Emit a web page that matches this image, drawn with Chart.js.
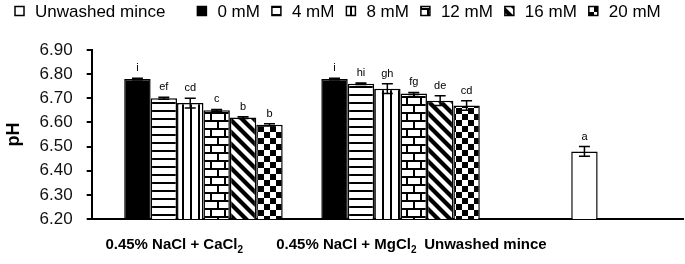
<!DOCTYPE html>
<html>
<head>
<meta charset="utf-8">
<script src="https://cdn.jsdelivr.net/npm/chart.js@4"></script>
<style>
  html, body { margin: 0; padding: 0; background: #fff; }
</style>
</head>
<body>
<canvas id="chart" width="685" height="264"></canvas>
<script>
// ================== Data ==================
const categories = ["0.45% NaCl + CaCl₂", "0.45% NaCl + MgCl₂", "Unwashed mince"];
const seriesNames = ["Unwashed mince", "0 mM", "4 mM", "8 mM", "12 mM", "16 mM", "20 mM"];

const phUnwashed = [null, null, 6.48];
const ph0 = [6.78, 6.78, null];
const ph4 = [6.70, 6.76, null];
const ph8 = [6.68, 6.74, null];
const ph12 = [6.65, 6.72, null];
const ph16 = [6.62, 6.69, null];
const ph20 = [6.59, 6.67, null];

const errUnwashed = [0, 0, 0.02];
const err0 = [0.003, 0.003, 0];
const err4 = [0.004, 0.003, 0];
const err8 = [0.02, 0.02, 0];
const err12 = [0.004, 0.004, 0];
const err16 = [0.004, 0.02, 0];
const err20 = [0.005, 0.02, 0];

const lettersUnwashed = ["", "", "a"];
const letters0 = ["i", "i", ""];
const letters4 = ["ef", "hi", ""];
const letters8 = ["cd", "gh", ""];
const letters12 = ["c", "fg", ""];
const letters16 = ["b", "de", ""];
const letters20 = ["b", "cd", ""];

const yTicks = [6.2, 6.3, 6.4, 6.5, 6.6, 6.7, 6.8, 6.9];

// ================== Patterns ==================
const canvas = document.getElementById("chart");
const FONT = "'Liberation Sans', Arial, Helvetica, sans-serif";

function makePattern(kind) {
  const tile = document.createElement("canvas");
  let w = 8, h = 8;
  if (kind === "brick") { w = 14; h = 16; }
  if (kind === "diag") { w = 12; h = 12; }
  if (kind === "check") { w = 12; h = 12; }
  tile.width = w;
  tile.height = h;
  const g = tile.getContext("2d");
  g.fillStyle = "#fff";
  g.fillRect(0, 0, w, h);
  g.fillStyle = "#000";
  if (kind === "hlines") g.fillRect(0, 6, w, 2);
  if (kind === "vlines") g.fillRect(6, 0, 2, h);
  if (kind === "brick") {
    g.fillRect(0, 0, w, 2);
    g.fillRect(0, 8, w, 2);
    g.fillRect(0, 0, 2, 8);
    g.fillRect(7, 8, 2, 8);
  }
  if (kind === "diag") {
    const s = 12, b = 6;
    g.beginPath();
    g.moveTo(0, 0); g.lineTo(b, 0); g.lineTo(s, s - b); g.lineTo(s, s); g.closePath();
    g.moveTo(0, s - b); g.lineTo(0, s); g.lineTo(b, s); g.closePath();
    g.fill();
  }
  if (kind === "check") {
    g.fillRect(0, 0, 6, 6);
    g.fillRect(6, 6, 6, 6);
  }
  return canvas.getContext("2d").createPattern(tile, "repeat");
}

function dataset(i, values, errors, letters, fill) {
  return {
    label: seriesNames[i],
    data: values,
    errors: errors,
    letters: letters,
    backgroundColor: fill,
    borderColor: "#000",
    borderWidth: 1.5,
    categoryPercentage: 0.938,
    barPercentage: 1,
  };
}

const datasets = [
  Object.assign(dataset(0, phUnwashed, errUnwashed, lettersUnwashed, "#fff"), {
    skipNull: true,
    categoryPercentage: 0.134,
  }),
  dataset(1, ph0, err0, letters0, "#000"),
  dataset(2, ph4, err4, letters4, makePattern("hlines")),
  dataset(3, ph8, err8, letters8, makePattern("vlines")),
  dataset(4, ph12, err12, letters12, makePattern("brick")),
  dataset(5, ph16, err16, letters16, makePattern("diag")),
  dataset(6, ph20, err20, letters20, makePattern("check")),
];

// ================== Error bars, letters, x labels, legend ==================
const labelShift = [-16, -41, -99];

const barExtras = {
  id: "barExtras",
  afterDatasetsDraw(chart) {
    const ctx = chart.ctx;
    const y = chart.scales.y;
    ctx.save();
    chart.data.datasets.forEach((ds, di) => {
      const meta = chart.getDatasetMeta(di);
      meta.data.forEach((bar, i) => {
        const v = ds.data[i];
        if (v == null) return;
        const e = ds.errors[i];
        const top = y.getPixelForValue(v + e);
        const bot = y.getPixelForValue(v - e);
        ctx.strokeStyle = "#000";
        ctx.lineWidth = 1.5;
        ctx.beginPath();
        ctx.moveTo(bar.x, top); ctx.lineTo(bar.x, bot);
        ctx.moveTo(bar.x - 5.5, top); ctx.lineTo(bar.x + 5.5, top);
        ctx.moveTo(bar.x - 5.5, bot); ctx.lineTo(bar.x + 5.5, bot);
        ctx.stroke();
        ctx.fillStyle = "#000";
        ctx.font = "11px " + FONT;
        ctx.textAlign = "center";
        ctx.textBaseline = "alphabetic";
        ctx.fillText(ds.letters[i], bar.x, top - 7);
      });
    });
    ctx.restore();
  },
  afterDraw(chart) {
    const ctx = chart.ctx;
    const x = chart.scales.x;
    const base = chart.chartArea.bottom + 30;
    ctx.save();
    ctx.fillStyle = "#000";
    ctx.textBaseline = "alphabetic";
    ctx.textAlign = "left";
    chart.data.labels.forEach((lab, i) => {
      // split text into normal / subscript pieces
      const parts = lab.split(/(₂)/).filter(Boolean).map((t) =>
        t === "₂" ? { t: "2", sub: true } : { t, sub: false });
      let total = 0;
      parts.forEach((p) => {
        ctx.font = p.sub ? "bold 10px " + FONT : "bold 15px " + FONT;
        p.w = ctx.measureText(p.t).width;
        total += p.w;
      });
      let cx = x.getPixelForValue(i) + labelShift[i] - total / 2;
      parts.forEach((p) => {
        ctx.font = p.sub ? "bold 10px " + FONT : "bold 15px " + FONT;
        ctx.fillText(p.t, cx, p.sub ? base + 4 : base);
        cx += p.w;
      });
    });

    // legend row along the top
    let lx = 15;
    const ly = 11;
    ctx.font = "17px " + FONT;
    ctx.textBaseline = "middle";
    chart.data.datasets.forEach((ds, di) => {
      ctx.fillStyle = ds.backgroundColor;
      ctx.fillRect(lx, ly - 4.5, 9, 9);
      ctx.strokeStyle = "#000";
      ctx.lineWidth = 1.5;
      ctx.strokeRect(lx, ly - 4.5, 9, 9);
      ctx.fillStyle = "#000";
      ctx.fillText(ds.label, lx + 20, ly + 1);
      lx += 20 + ctx.measureText(ds.label).width + (di === 0 ? 32 : 12);
    });
    ctx.restore();
  },
};

// ================== Chart ==================
new Chart(canvas, {
  type: "bar",
  data: { labels: categories, datasets },
  options: {
    responsive: false,
    animation: false,
    devicePixelRatio: 1,
    layout: { padding: { top: 50, left: 0, right: 2, bottom: 37 } },
    plugins: {
      tooltip: { enabled: false },
      legend: { display: false },
    },
    scales: {
      x: {
        grid: { display: false },
        border: { display: true, color: "#000", width: 2 },
        ticks: { display: false },
      },
      y: {
        min: 6.2,
        max: 6.9,
        afterBuildTicks: (axis) => {
          axis.ticks = yTicks.map((v) => ({ value: v }));
        },
        ticks: {
          color: "#111",
          padding: 14,
          font: { family: FONT, size: 17 },
          callback: (v) => Number(v).toFixed(2),
        },
        grid: { drawOnChartArea: false, drawTicks: true, tickLength: 5, color: "#000", lineWidth: 2 },
        border: { display: true, color: "#000", width: 2 },
        title: {
          display: true,
          text: "pH",
          color: "#000",
          font: { family: FONT, size: 18, weight: "bold" },
          padding: { top: 3, bottom: 1 },
        },
      },
    },
  },
  plugins: [barExtras],
});
</script>
</body>
</html>
